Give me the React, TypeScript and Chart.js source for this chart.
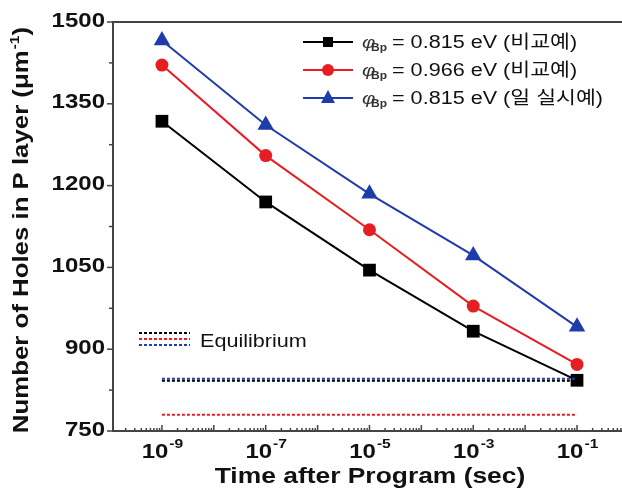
import React, { useEffect, useRef } from "react";
import { Chart, registerables } from "chart.js";

Chart.register(...registerables);

const times = [1e-9, 1e-7, 1e-5, 1e-3, 1e-1];
const seriesBlack = [1318, 1170, 1045, 933, 843];
const seriesRed = [1421, 1255, 1119, 979, 872];
const seriesBlue = [1466, 1311, 1185, 1072, 941];
const eqBlack = 842;
const eqBlue = 846;
const eqRed = 780;
const yTicks = [750, 900, 1050, 1200, 1350, 1500];
const yMinorTicks = [825, 975, 1125, 1275, 1425];
const xTickExponents = [-9, -7, -5, -3, -1];
const legendLabels = [
  { sub: "Bp", text: "= 0.815 eV (비교예)" },
  { sub: "Bp", text: "= 0.966 eV (비교예)" },
  { sub: "Bp", text: "= 0.815 eV (일 실시예)" },
];
const eqLabel = "Equilibrium";
const xTitle = "Time after Program (sec)";
const yTitleMain = "Number of Holes in P layer (μm";
const yTitleSup = "-1";

const BLACK = "#000000";
const RED = "#e61e23";
const BLUE = "#1e3caa";
const FONT = "'Liberation Sans', Arial, 'Noto Sans CJK KR', sans-serif";
const SX = 1.2;

function txt(ctx: CanvasRenderingContext2D, s: string, x: number, y: number, font: string, align: CanvasTextAlign = "left", baseline: CanvasTextBaseline = "alphabetic", color = "#111") {
  ctx.save();
  ctx.translate(x, y);
  ctx.scale(SX, 1);
  ctx.font = font;
  ctx.textAlign = align;
  ctx.textBaseline = baseline;
  ctx.fillStyle = color;
  ctx.fillText(s, 0, 0);
  ctx.restore();
}
function tw(ctx: CanvasRenderingContext2D, s: string, font: string) {
  ctx.save();
  ctx.font = font;
  const w = ctx.measureText(s).width * SX;
  ctx.restore();
  return w;
}

const pts = (vals: number[]) => vals.map((v, i) => ({ x: times[i], y: v }));
const eqLine = (v: number) => [{ x: times[0], y: v }, { x: times[times.length - 1], y: v }];

const decorPlugin = {
  id: "decor",
  beforeDatasetsDraw(chart: any) {
    const ctx: CanvasRenderingContext2D = chart.ctx;
    const { left, right, top, bottom } = chart.chartArea;
    const xs = chart.scales.x;
    const ys = chart.scales.y;
    ctx.save();
    ctx.strokeStyle = "#444";
    ctx.lineWidth = 2;
    ctx.beginPath();
    ctx.moveTo(right + 2, top);
    ctx.lineTo(left, top);
    ctx.lineTo(left, bottom);
    ctx.lineTo(right + 2, bottom);
    ctx.stroke();
    ctx.lineWidth = 1.5;
    for (const v of yTicks) {
      const y = ys.getPixelForValue(v);
      ctx.beginPath();
      ctx.moveTo(left - 6, y);
      ctx.lineTo(left, y);
      ctx.stroke();
    }
    for (const v of yMinorTicks) {
      const y = ys.getPixelForValue(v);
      ctx.beginPath();
      ctx.moveTo(left - 4, y);
      ctx.lineTo(left, y);
      ctx.stroke();
    }
    for (let d = -11; d <= 0; d++) {
      for (let m = 1; m <= 9; m++) {
        const v = m * Math.pow(10, d);
        if (v < xs.min || v > xs.max) continue;
        const x = xs.getPixelForValue(v);
        const len = m === 1 ? 6 : 3;
        ctx.beginPath();
        ctx.moveTo(x, bottom);
        ctx.lineTo(x, bottom - len);
        ctx.stroke();
      }
    }
    ctx.restore();
  },
  afterDraw(chart: any) {
    const ctx: CanvasRenderingContext2D = chart.ctx;
    const { left, bottom } = chart.chartArea;
    const xs = chart.scales.x;
    const ys = chart.scales.y;
    const tickFont = `bold 20px ${FONT}`;
    const supFont = `bold 13px ${FONT}`;
    for (const v of yTicks) {
      txt(ctx, String(v), left - 8, ys.getPixelForValue(v) - 1, tickFont, "right", "middle");
    }
    for (const e of xTickExponents) {
      const x = xs.getPixelForValue(Math.pow(10, e));
      const w1 = tw(ctx, "10", tickFont);
      const w2 = tw(ctx, String(e), supFont);
      const x0 = x - (w1 + w2) / 2;
      txt(ctx, "10", x0, bottom + 27, tickFont);
      txt(ctx, String(e), x0 + w1 + 1, bottom + 17, supFont);
    }
    txt(ctx, xTitle, 370, 483, `bold 22px ${FONT}`, "center");
    {
      const f = `bold 21.5px ${FONT}`;
      const fs = `bold 13px ${FONT}`;
      const w1 = tw(ctx, yTitleMain, f);
      const w2 = tw(ctx, yTitleSup, fs);
      const w3 = tw(ctx, ")", f);
      const W = w1 + w2 + w3 + 1;
      ctx.save();
      ctx.translate(28, 230);
      ctx.rotate(-Math.PI / 2);
      txt(ctx, yTitleMain, -W / 2, 0, f);
      txt(ctx, yTitleSup, -W / 2 + w1 + 1, -9, fs);
      txt(ctx, ")", -W / 2 + w1 + w2 + 1, 0, f);
      ctx.restore();
    }
    const colors = [BLACK, RED, BLUE];
    const shapes = ["rect", "circle", "triangle"];
    const rows = [42, 70, 98];
    const lf = `18px ${FONT}`;
    rows.forEach((ry, i) => {
      ctx.save();
      ctx.strokeStyle = colors[i];
      ctx.lineWidth = 2;
      ctx.beginPath();
      ctx.moveTo(303, ry);
      ctx.lineTo(353, ry);
      ctx.stroke();
      ctx.fillStyle = colors[i];
      ctx.beginPath();
      if (shapes[i] === "rect") {
        ctx.rect(328 - 5, ry - 5, 10, 10);
      } else if (shapes[i] === "circle") {
        ctx.arc(328, ry, 6, 0, Math.PI * 2);
      } else {
        ctx.moveTo(328, ry - 8);
        ctx.lineTo(335, ry + 5);
        ctx.lineTo(321, ry + 5);
        ctx.closePath();
      }
      ctx.fill();
      ctx.restore();
      txt(ctx, "φ", 362, ry + 6, `italic 17px ${FONT}`, "left", "alphabetic", "#333");
      txt(ctx, legendLabels[i].sub, 371, ry + 9, `bold 10px ${FONT}`, "left", "alphabetic", "#333");
      txt(ctx, legendLabels[i].text, 392, ry + 6, lf);
    });
    const eqColors = [BLACK, RED, BLUE];
    [333, 339, 345].forEach((y, i) => {
      ctx.save();
      ctx.strokeStyle = eqColors[i];
      ctx.lineWidth = 2;
      ctx.setLineDash([3, 2]);
      ctx.beginPath();
      ctx.moveTo(139, y);
      ctx.lineTo(190, y);
      ctx.stroke();
      ctx.restore();
    });
    txt(ctx, eqLabel, 200, 347, lf);
  },
};

export default function App() {
  const ref = useRef<HTMLCanvasElement | null>(null);
  useEffect(() => {
    if (!ref.current) return;
    const dash = { borderWidth: 2, borderDash: [3, 2], pointRadius: 0, fill: false };
    const chart = new Chart(ref.current, {
      type: "line",
      data: {
        datasets: [
          { data: eqLine(eqRed), borderColor: RED, ...dash },
          { data: eqLine(eqBlue), borderColor: BLUE, ...dash },
          { data: eqLine(eqBlack), borderColor: BLACK, ...dash },
          { data: pts(seriesBlack), borderColor: BLACK, backgroundColor: BLACK, borderWidth: 2, pointStyle: "rect", pointRadius: 9, pointBorderWidth: 0 },
          { data: pts(seriesRed), borderColor: RED, backgroundColor: RED, borderWidth: 2, pointStyle: "circle", pointRadius: 6.5, pointBorderWidth: 0 },
          { data: pts(seriesBlue), borderColor: BLUE, backgroundColor: BLUE, borderWidth: 2, pointStyle: "triangle", pointRadius: 9.5, pointBorderWidth: 0 },
        ],
      },
      options: {
        animation: false,
        responsive: false,
        devicePixelRatio: 1,
        layout: { autoPadding: false, padding: { left: 113, top: 22, right: 0, bottom: 59 } },
        plugins: { legend: { display: false }, tooltip: { enabled: false } },
        scales: {
          x: { type: "logarithmic", display: false, min: 1.14e-10, max: 0.736 },
          y: { type: "linear", display: false, min: 750, max: 1500 },
        },
      },
      plugins: [decorPlugin],
    } as any);
    return () => chart.destroy();
  }, []);
  return (
    <div style={{ position: "fixed", left: 0, top: 0, width: 622, height: 490, background: "#fff" }}>
      <canvas ref={ref} width={622} height={490} style={{ width: 622, height: 490 }} />
    </div>
  );
}
